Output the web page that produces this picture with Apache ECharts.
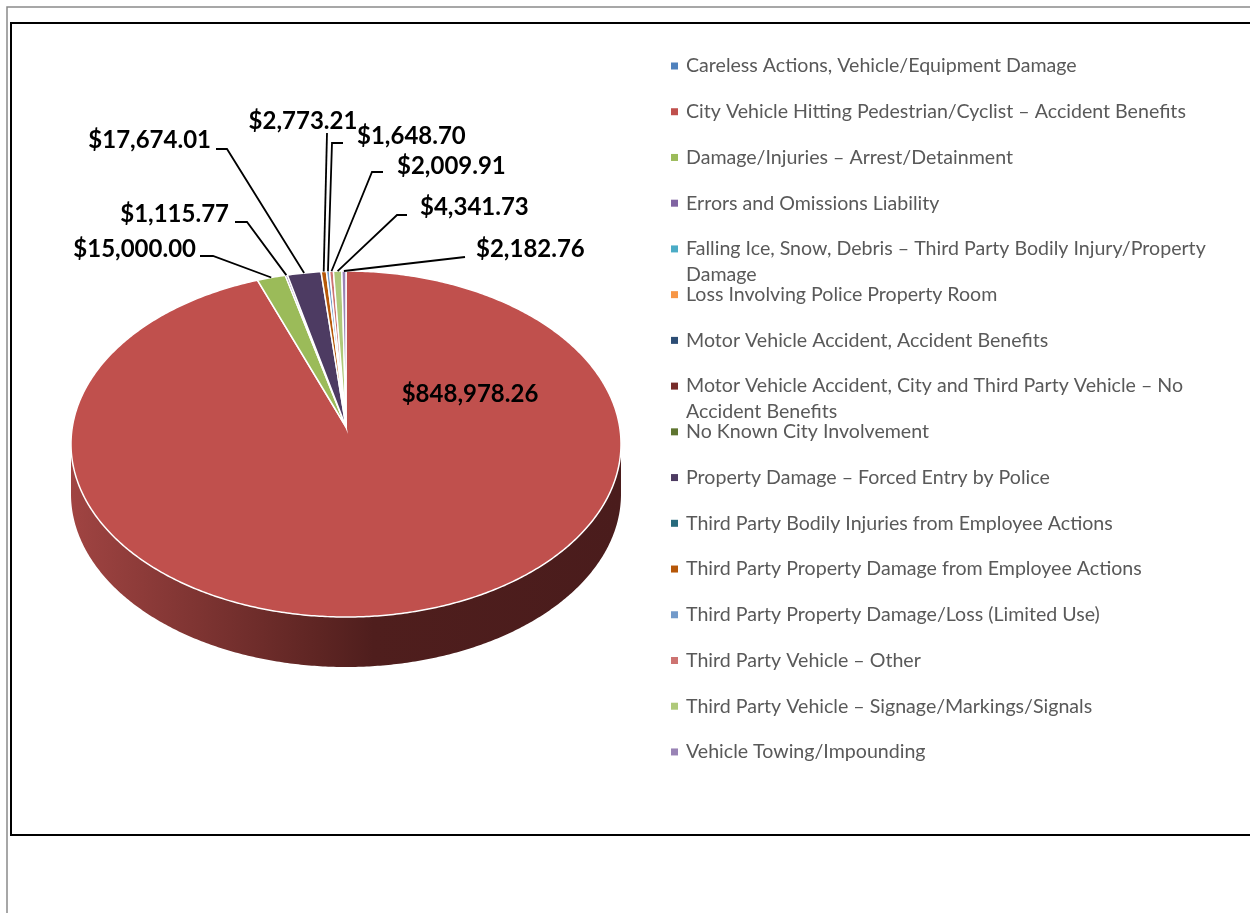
<!DOCTYPE html>
<html>
<head>
<meta charset="utf-8">
<script src="https://cdn.jsdelivr.net/npm/echarts@6/dist/echarts.min.js"></script>
<style>
  html, body { margin: 0; padding: 0; background: #fff; }
  #chart { width: 1250px; height: 913px; }
</style>
</head>
<body>
<div id="chart"></div>
<script>
// claim categories, in legend / slice order (clockwise from 12 o'clock)
const categories = [
  'Careless Actions, Vehicle/Equipment Damage',
  'City Vehicle Hitting Pedestrian/Cyclist \u2013 Accident Benefits',
  'Damage/Injuries \u2013 Arrest/Detainment',
  'Errors and Omissions Liability',
  'Falling Ice, Snow, Debris \u2013 Third Party Bodily Injury/Property Damage',
  'Loss Involving Police Property Room',
  'Motor Vehicle Accident, Accident Benefits',
  'Motor Vehicle Accident, City and Third Party Vehicle \u2013 No Accident Benefits',
  'No Known City Involvement',
  'Property Damage \u2013 Forced Entry by Police',
  'Third Party Bodily Injuries from Employee Actions',
  'Third Party Property Damage from Employee Actions',
  'Third Party Property Damage/Loss (Limited Use)',
  'Third Party Vehicle \u2013 Other',
  'Third Party Vehicle \u2013 Signage/Markings/Signals',
  'Vehicle Towing/Impounding'
]
// paid amounts ($)
const amounts = [0, 848978.26, 15000.00, 1115.77, 0, 0, 0, 0, 0, 17674.01, 0, 2773.21, 1648.70, 2009.91, 4341.73, 2182.76]

const colors = ['#4F81BD', '#C0504D', '#9BBB59', '#8064A2', '#4BACC6', '#F79646', '#2C4D75', '#772C2A',
  '#5F7530', '#4D3B62', '#276A7C', '#B65708', '#729ACA', '#CD7371', '#AFC97A', '#9983B5']

// where each value label sits, and the bend of its leader line (layout only)
const labelLayout = [
  null,
  { x: 470, y: 394, align: 'center', line: null },
  { x: 196, y: 249, align: 'right', line: [[200, 256], [213, 256]] },
  { x: 229, y: 214, align: 'right', line: [[235, 222], [247, 222]] },
  null, null, null, null, null,
  { x: 211, y: 140, align: 'right', line: [[216, 149], [227, 149]] },
  null,
  { x: 303, y: 121, align: 'center', line: [[327, 133]] },
  { x: 357, y: 136, align: 'left', line: [[343, 143], [332, 143]] },
  { x: 397, y: 166, align: 'left', line: [[383, 172], [372, 172]] },
  { x: 420, y: 207, align: 'left', line: [[407, 215], [397, 215]] },
  { x: 476, y: 249, align: 'left', line: [[465, 257]] }
]

// pie geometry (tilted 3d look)
const CX = 346
const CY = 444
const APEX_Y = 427
const RX = 275
const RY = 173
const DEPTH = 50

// legend rows
const LEGEND_TOP = 66
const LEGEND_STEP = 45.73
const LINE_H = 26

const total = amounts.reduce((s, v) => s + v, 0)
const startAngle = []
let acc = 0
amounts.forEach(v => {
  startAngle.push(acc)
  acc += v / total * Math.PI * 2
})

function rim(a, dy) {
  return [CX + RX * Math.sin(a), CY - RY * Math.cos(a) + dy]
}

function arc(a0, a1, dy) {
  const pts = []
  const n = Math.max(2, Math.ceil((a1 - a0) / 0.01))
  for (let k = 0; k <= n; k++) pts.push(rim(a0 + (a1 - a0) * k / n, dy))
  return pts
}

function money(v) {
  return '$' + v.toLocaleString('en-US', { minimumFractionDigits: 2, maximumFractionDigits: 2 })
}

function renderSlice(i) {
  return function(params, api) {
    const v = api.value(0)
    if (!v) return null
    const a0 = startAngle[i]
    const a1 = a0 + v / total * Math.PI * 2
    const children = []
    // side wall, only the front half shows
    const w0 = Math.max(a0, Math.PI / 2)
    const w1 = Math.min(a1, Math.PI * 1.5)
    if (w1 > w0) {
      const pts = arc(w0, w1, 0).concat(arc(w0, w1, DEPTH).reverse())
      children.push({
        type: 'polygon',
        z2: 1,
        shape: { points: pts },
        style: {
          fill: new echarts.graphic.LinearGradient(1, 0, 0, 0, [
            { offset: 0, color: '#4a1c1c' },
            { offset: 0.45, color: '#4f1e1d' },
            { offset: 0.55, color: '#5e2523' },
            { offset: 1, color: '#a04442' }
          ]),
          stroke: null
        }
      })
    }
    // top face
    children.push({
      type: 'polygon',
      z2: 5,
      shape: { points: [[CX, APEX_Y]].concat(arc(a0, a1, 0)) },
      style: { fill: colors[i], stroke: '#fff', lineWidth: 1.5 }
    })
    const lay = labelLayout[i]
    if (lay) {
      if (lay.line) {
        children.push({
          type: 'polyline',
          z2: 8,
          shape: { points: lay.line.concat([rim((a0 + a1) / 2, 0)]) },
          style: { stroke: '#000', lineWidth: 1.8, fill: null }
        })
      }
      children.push({
        type: 'text',
        z2: 10,
        style: {
          text: money(v),
          x: lay.x,
          y: lay.y,
          align: lay.align,
          verticalAlign: 'middle',
          font: 'bold 24px Lato',
          fill: '#000'
        }
      })
    }
    return { type: 'group', children: children }
  }
}

// wrapped entries get a blank first line so the marker stays level with the first real line
const legendWrap = {}
legendWrap[categories[4]] = ' \nFalling Ice, Snow, Debris \u2013 Third Party Bodily Injury/Property\nDamage'
legendWrap[categories[7]] = ' \nMotor Vehicle Accident, City and Third Party Vehicle \u2013 No\nAccident Benefits'

// one legend per row so a wrapped entry does not push the rows below it
const legends = categories.map((name, k) => {
  const wrapped = !!legendWrap[name]
  return {
    orient: 'vertical',
    left: 671,
    top: LEGEND_TOP + k * LEGEND_STEP - (wrapped ? LINE_H * 1.5 : LINE_H / 2),
    padding: 0,
    itemWidth: 7,
    itemHeight: 7,
    icon: 'rect',
    selectedMode: false,
    data: [name],
    formatter: n => legendWrap[n] || n,
    textStyle: {
      fontFamily: 'Lato',
      fontSize: 19.6,
      color: '#595959',
      lineHeight: LINE_H,
      padding: [0, 0, 0, 3]
    }
  }
})

const chart = echarts.init(document.getElementById('chart'))
chart.setOption({
  backgroundColor: '#fff',
  animation: false,
  legend: legends,
  graphic: [
    { type: 'polyline', silent: true, shape: { points: [[7, 913], [7, 7], [1250, 7]] }, style: { stroke: '#8a8a8a', lineWidth: 1.5, fill: null } },
    { type: 'rect', silent: true, shape: { x: 11, y: 23, width: 1260, height: 812 }, style: { stroke: '#000', lineWidth: 2, fill: null } }
  ],
  series: categories.map((name, i) => ({
    type: 'custom',
    name: name,
    coordinateSystem: 'none',
    silent: true,
    itemStyle: { color: colors[i] },
    renderItem: renderSlice(i),
    data: [amounts[i]]
  }))
})
</script>
</body>
</html>
